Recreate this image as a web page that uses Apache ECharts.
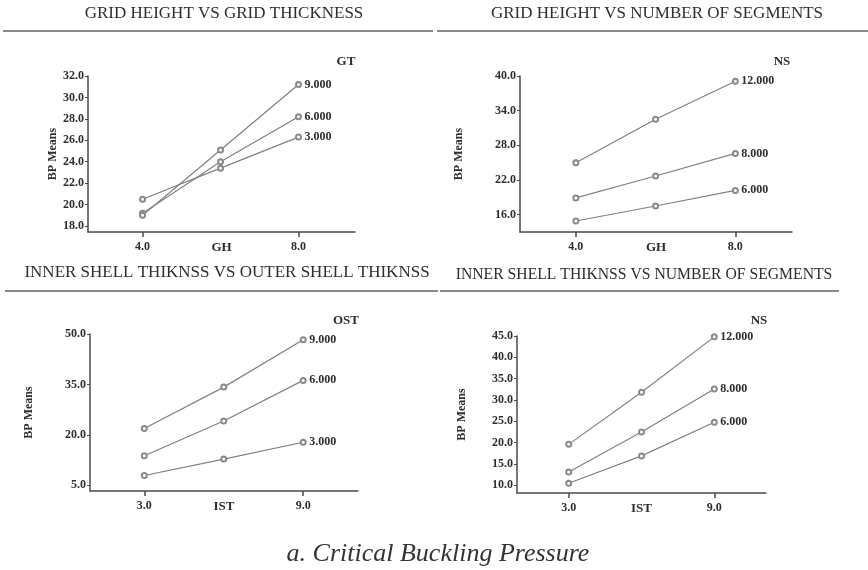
<!DOCTYPE html>
<html>
<head>
<meta charset="utf-8">
<script src="https://cdn.jsdelivr.net/npm/echarts@6/dist/echarts.min.js"></script>
<style>
  html, body { margin: 0; padding: 0; background: #fff; }
  #chart { width: 868px; height: 570px; }
</style>
</head>
<body>
<div id="chart"></div>
<script>
// Factor levels on the x axes
const ghLevels = [4, 6, 8];
const istLevels = [3, 6, 9];

// Grid height vs grid thickness (GT)
const gtNames = ['3.000', '6.000', '9.000'];
const gt3 = [20.5, 23.4, 26.3];
const gt6 = [19.2, 24.0, 28.2];
const gt9 = [19.0, 25.1, 31.2];

// Grid height vs number of segments (NS)
const nsNames = ['6.000', '8.000', '12.000'];
const nsGh6 = [14.9, 17.5, 20.2];
const nsGh8 = [18.9, 22.7, 26.6];
const nsGh12 = [25.0, 32.5, 39.1];

// Inner shell thickness vs outer shell thickness (OST)
const ostNames = ['3.000', '6.000', '9.000'];
const ost3 = [7.9, 12.8, 17.8];
const ost6 = [13.8, 24.1, 36.2];
const ost9 = [21.9, 34.2, 48.3];

// Inner shell thickness vs number of segments (NS)
const nsIst6 = [10.5, 16.9, 24.8];
const nsIst8 = [13.1, 22.5, 32.6];
const nsIst12 = [19.6, 31.8, 44.8];

// Tick labels
const yTicks1 = [18, 20, 22, 24, 26, 28, 30, 32];
const yTicks2 = [16, 22, 28, 34, 40];
const yTicks3 = [5, 20, 35, 50];
const yTicks4 = [10, 15, 20, 25, 30, 35, 40, 45];
const xTicksGh = [4, 8];
const xTicksIst = [3, 9];

const panelTitles = [
  'GRID HEIGHT VS GRID THICKNESS',
  'GRID HEIGHT VS NUMBER OF SEGMENTS',
  'INNER SHELL THIKNSS VS OUTER SHELL THIKNSS',
  'INNER SHELL THIKNSS VS NUMBER OF SEGMENTS'
];
const caption = 'a. Critical Buckling Pressure';

const SERIF = '"Liberation Serif", "Times New Roman", serif';
const INK = '#2e2e2e';
const LINE = '#808080';
const AXIS = '#4a4a4a';

const chart = echarts.init(document.getElementById('chart'), null, { renderer: 'canvas' });

const grids = [
  { left: 88, top: 76, width: 267, height: 156 },
  { left: 520, top: 76, width: 272, height: 156 },
  { left: 90, top: 334, width: 268, height: 157 },
  { left: 517, top: 336, width: 249, height: 157 }
];

function xAxis(idx, name, ticks, min, max) {
  return {
    type: 'value', gridIndex: idx, min: min, max: max,
    name: name, nameLocation: 'middle', nameGap: 9, nameMoveOverlap: false,
    nameTextStyle: { fontFamily: SERIF, fontWeight: 'bold', fontSize: 13, color: INK, verticalAlign: 'top' },
    axisLine: { show: true, lineStyle: { color: AXIS, width: 1.5 } },
    axisTick: { show: true, customValues: ticks, length: 5, lineStyle: { color: AXIS, width: 1.5 } },
    axisLabel: {
      show: true, customValues: ticks, margin: 9,
      fontFamily: SERIF, fontWeight: 'bold', fontSize: 12, color: INK,
      formatter: v => v.toFixed(1)
    },
    splitLine: { show: false }
  };
}

function yAxis(idx, ticks, min, max, gap) {
  return {
    type: 'value', gridIndex: idx, min: min, max: max,
    name: 'BP Means', nameLocation: 'middle', nameGap: gap, nameRotate: 90,
    nameTextStyle: { fontFamily: SERIF, fontWeight: 'bold', fontSize: 12, color: INK },
    axisLine: { show: true, lineStyle: { color: AXIS, width: 1.5 } },
    axisTick: { show: true, customValues: ticks, length: 3, lineStyle: { color: AXIS, width: 1 } },
    axisLabel: {
      show: true, customValues: ticks, margin: 4,
      fontFamily: SERIF, fontWeight: 'bold', fontSize: 12, color: INK,
      formatter: v => v.toFixed(1)
    },
    splitLine: { show: false }
  };
}

function lineSeries(idx, name, xs, ys) {
  return {
    type: 'line', name: name, xAxisIndex: idx, yAxisIndex: idx,
    data: xs.map((x, i) => [x, ys[i]]),
    symbol: 'emptyCircle', symbolSize: 5,
    lineStyle: { color: LINE, width: 1.2 },
    itemStyle: { color: '#8a8a8a', borderColor: '#8a8a8a', borderWidth: 1 },
    endLabel: {
      show: true, formatter: name, distance: 6,
      fontFamily: SERIF, fontWeight: 'bold', fontSize: 12, color: INK
    },
    animation: false,
    silent: true
  };
}

const titles = [
  { x: 224, y: 14, size: 17 }, { x: 657, y: 14, size: 17 },
  { x: 227, y: 273, size: 17 }, { x: 644, y: 275, size: 15.7 }
];
const headers = [
  { text: 'GT', x: 346, y: 62 }, { text: 'NS', x: 782, y: 62 },
  { text: 'OST', x: 346, y: 321 }, { text: 'NS', x: 759, y: 321 }
];
const rules = [
  [3, 31, 433, 31], [437, 31, 868, 31], [5, 291, 438, 291], [440, 291, 839, 291]
];

const graphics = [];
panelTitles.forEach((t, i) => {
  graphics.push({
    type: 'text', x: titles[i].x, y: titles[i].y,
    style: { text: t, font: titles[i].size + 'px ' + SERIF, fill: INK, textAlign: 'center', textVerticalAlign: 'middle' }
  });
});
headers.forEach(h => {
  graphics.push({
    type: 'text', x: h.x, y: h.y,
    style: { text: h.text, font: 'bold 13px ' + SERIF, fill: INK, textAlign: 'center', textVerticalAlign: 'middle' }
  });
});
rules.forEach(r => {
  graphics.push({
    type: 'line', shape: { x1: r[0], y1: r[1], x2: r[2], y2: r[3] },
    style: { stroke: '#8a8a8a', lineWidth: 2 }
  });
});
graphics.push({
  type: 'text', x: 438, y: 554,
  style: { text: caption, font: 'italic 26px ' + SERIF, fill: '#333', textAlign: 'center', textVerticalAlign: 'middle' }
});

chart.setOption({
  backgroundColor: '#fff',
  animation: false,
  grid: grids,
  xAxis: [
    xAxis(0, 'GH', xTicksGh, 2.6, 9.45),
    xAxis(1, 'GH', xTicksGh, 2.6, 9.42),
    xAxis(2, 'IST', xTicksIst, 0.95, 11.07),
    xAxis(3, 'IST', xTicksIst, 0.87, 11.13)
  ],
  yAxis: [
    yAxis(0, yTicks1, 17.44, 32, 28),
    yAxis(1, yTicks2, 13, 40, 55),
    yAxis(2, yTicks3, 3.3, 50, 55),
    yAxis(3, yTicks4, 8.2, 45, 49)
  ],
  series: [
    lineSeries(0, gtNames[0], ghLevels, gt3),
    lineSeries(0, gtNames[1], ghLevels, gt6),
    lineSeries(0, gtNames[2], ghLevels, gt9),
    lineSeries(1, nsNames[0], ghLevels, nsGh6),
    lineSeries(1, nsNames[1], ghLevels, nsGh8),
    lineSeries(1, nsNames[2], ghLevels, nsGh12),
    lineSeries(2, ostNames[0], istLevels, ost3),
    lineSeries(2, ostNames[1], istLevels, ost6),
    lineSeries(2, ostNames[2], istLevels, ost9),
    lineSeries(3, nsNames[0], istLevels, nsIst6),
    lineSeries(3, nsNames[1], istLevels, nsIst8),
    lineSeries(3, nsNames[2], istLevels, nsIst12)
  ],
  graphic: graphics
});
</script>
</body>
</html>
